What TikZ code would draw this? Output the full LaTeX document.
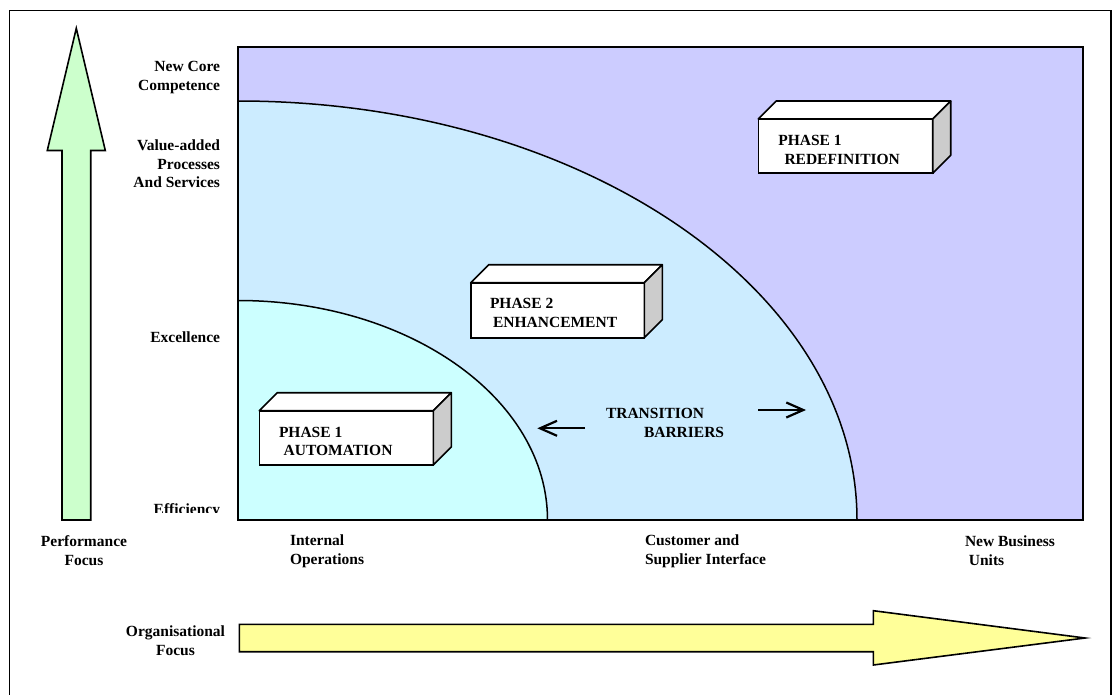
\documentclass[tikz,border=0pt]{standalone}
\usepackage{fontspec}
\setmainfont{Liberation Serif}
\usetikzlibrary{arrows.meta}
\definecolor{redefcol}{RGB}{204,204,255}
\definecolor{enhcol}{RGB}{204,236,255}
\definecolor{autocol}{RGB}{204,255,255}
\definecolor{perfcol}{RGB}{204,255,204}
\definecolor{orgcol}{RGB}{255,255,153}
\definecolor{sidecol}{RGB}{204,204,204}
\tikzset{
  lbl/.style={font=\bfseries\fontsize{15.5}{18.7}\selectfont, inner sep=0pt, outer sep=0pt},
  boxfront/.style={draw, line width=1.6pt, fill=white, inner sep=0pt, outer sep=0pt},
  boxtop/.style={draw, line width=1.6pt, fill=white, line join=round},
  boxside/.style={draw, line width=1.6pt, fill=sidecol, line join=round},
  bigarrow/.style={draw, line width=1.6pt, line join=miter},
  barb/.style={line width=2.2pt, -{Straight Barb[length=17pt, width=15pt, line width=2.2pt]}},
}
% a block with a white front, white top and grey right side
\newcommand{\phaseblock}[5]{%
  \node[boxfront, minimum width=#4pt, minimum height=#5pt, anchor=north west] (#1) at (#2,#3) {};
  \draw[boxtop] (#1.north west) -- ++(18,-18) -- ([xshift=18pt,yshift=18pt]#1.north east) -- (#1.north east) -- cycle;
  \draw[boxside] (#1.north east) -- ++(18,-18) -- ([xshift=18pt,yshift=18pt]#1.south east) -- (#1.south east) -- cycle;
}
\begin{document}
\begin{tikzpicture}[x=1pt, y=-1pt]
\useasboundingbox (0,0) rectangle (1113,695);
% outer frame, running on below the page
\begin{scope}
  \clip (0,0) rectangle (1113,695);
  \draw[line width=1.5pt] (9.5,10.5) rectangle (1111,705);
\end{scope}

% zones
\fill[redefcol] (238,46.7) rectangle (1083,520);
\filldraw[enhcol, draw=black, line width=1.5pt] (238,520) -- (238,101) arc[start angle=90, end angle=0, x radius=619pt, y radius=419pt] -- cycle;
\filldraw[autocol, draw=black, line width=1.5pt] (238,520) -- (238,300.5) arc[start angle=90, end angle=0, x radius=309.5pt, y radius=219.5pt] -- cycle;
\draw[line width=2pt] (238,46.7) rectangle (1083,520);

% performance focus arrow
\filldraw[bigarrow, fill=perfcol] (62,520) -- (62,150.5) -- (47.3,150.5) -- (76.3,28.3) -- (105.3,150.5) -- (90.7,150.5) -- (90.7,520) -- cycle;
% organisational focus arrow
\filldraw[bigarrow, fill=orgcol] (239.3,624.3) -- (873.3,624.3) -- (873.3,610.7) -- (1085,638) -- (873.3,665) -- (873.3,651.7) -- (239.3,651.7) -- cycle;

% phase blocks
\phaseblock{automation}{259.3}{410.7}{174}{54.3}
\phaseblock{enhancement}{470.7}{282.7}{173.6}{55}
\phaseblock{redefinition}{758.3}{119}{174.4}{54.3}

\node[lbl, anchor=west, align=left] (tautomation) at (279,441.4) {PHASE 1\\\hspace*{0.3em}AUTOMATION};
\node[lbl, anchor=west, align=left] (tenhancement) at (490,313) {PHASE 2\\\hspace*{0.2em}ENHANCEMENT};
\node[lbl, anchor=west, align=left] (tredefinition) at (778.3,150) {PHASE 1\\\hspace*{0.4em}REDEFINITION};

% transition barriers
\node[lbl, anchor=west, align=left] (barriers) at (606,423) {TRANSITION\\\hspace*{38pt}BARRIERS};
\coordinate (lefttail) at (585,428.3);
\coordinate (lefttip) at (537.3,428.3);
\coordinate (righttail) at (758.3,410);
\coordinate (righttip) at (806,410);
\draw[barb] (lefttail) -- (lefttip);
\draw[barb] (righttail) -- (righttip);

% performance levels
\node[lbl, anchor=east, align=right] (core) at (220,77.5) {New Core\\Competence};
\node[lbl, anchor=east, align=right] (valueadded) at (220,163.7) {Value-added\\Processes\\And Services};
\node[lbl, anchor=east, align=right] (excellence) at (220,337) {Excellence};
\begin{scope}
  \clip (100,480) rectangle (236,512.3);
  \node[lbl, anchor=east] (efficiency) at (220,510.5) {Efficiency};
\end{scope}

% organisational levels
\node[lbl, align=center] (perf) at (84,550.5) {Performance\\Focus};
\node[lbl, anchor=west, align=left] (internal) at (290,551) {Internal\\Operations};
\node[lbl, anchor=west, align=left] (customer) at (645,551) {Customer and\\Supplier Interface};
\node[lbl, anchor=west, align=left] (newbiz) at (965,551) {New Business\\\hspace*{0.25em}Units};
\node[lbl, align=center] (org) at (175.5,640.5) {Organisational\\Focus};
\end{tikzpicture}
\end{document}
